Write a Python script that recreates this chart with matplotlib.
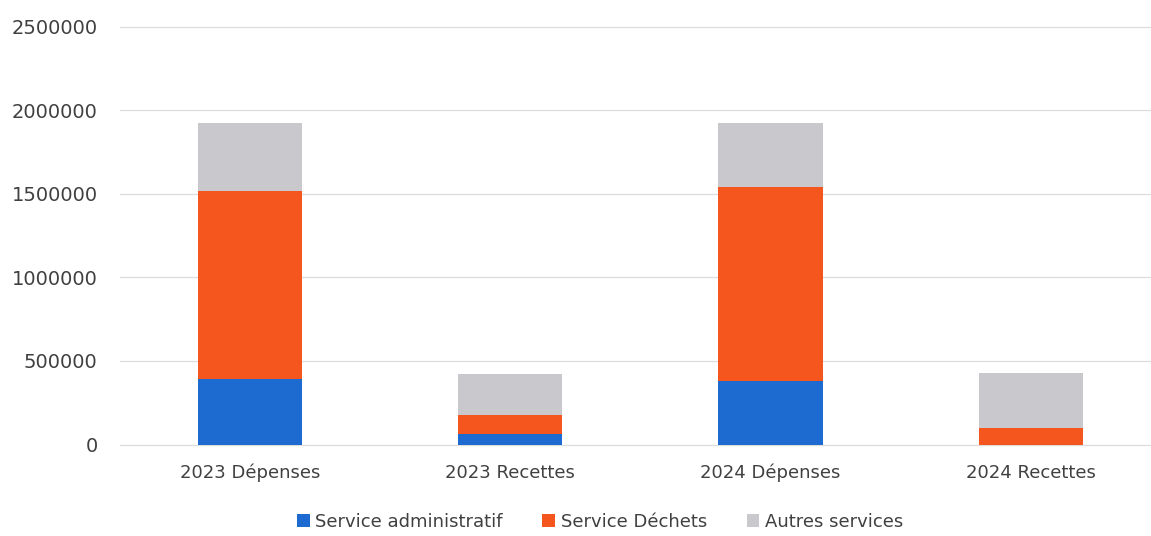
import numpy as np
import matplotlib
matplotlib.use("Agg")
import matplotlib.pyplot as plt

# Budget par catégorie (en euros)
categories = ["2023 Dépenses", "2023 Recettes", "2024 Dépenses", "2024 Recettes"]
service_administratif = [393000, 64000, 380000, 0]
service_dechets = [1125000, 111000, 1158000, 100000]
autres_services = [404000, 248000, 384000, 325000]

series_names = ["Service administratif", "Service Déchets", "Autres services"]
colors = ["#1d6ad0", "#f5561d", "#c9c9cd"]

fig = plt.figure(figsize=(11.51, 5.36), dpi=100)
ax = fig.add_axes([119.8 / 1151, 91.5 / 536, (1161 - 119.8) / 1151, (444.5 - 26.7) / 536])

x = np.arange(len(categories))
bottom = np.zeros(len(categories))
for name, vals, col in zip(series_names, [service_administratif, service_dechets, autres_services], colors):
    ax.bar(x, vals, width=0.4, bottom=bottom, color=col, label=name, zorder=3)
    bottom += np.array(vals)

ax.set_xlim(-0.5, 3.5)
ax.set_ylim(0, 2500000)
ax.set_yticks(np.arange(0, 2500001, 500000))
ax.set_yticklabels([str(v) for v in range(0, 2500001, 500000)])
ax.set_xticks(x)
ax.set_xticklabels(categories)

ax.grid(axis="y", color="#dcdcdc", linewidth=0.9, zorder=0)
for gl in ax.get_ygridlines():
    gl.set_clip_on(False)
for s in ax.spines.values():
    s.set_visible(False)
ax.tick_params(axis="y", length=0, pad=16, labelsize=14, labelcolor="#404040")
ax.tick_params(axis="x", length=0, pad=14, labelsize=13, labelcolor="#404040")

fig.legend(loc="center", bbox_to_anchor=(600 / 1151, 14 / 536), ncol=3, frameon=False,
           fontsize=13, labelcolor="#404040", handlelength=0.7, handleheight=0.7,
           handletextpad=0.3, columnspacing=2.2)

fig.savefig("out.png", dpi=100)
